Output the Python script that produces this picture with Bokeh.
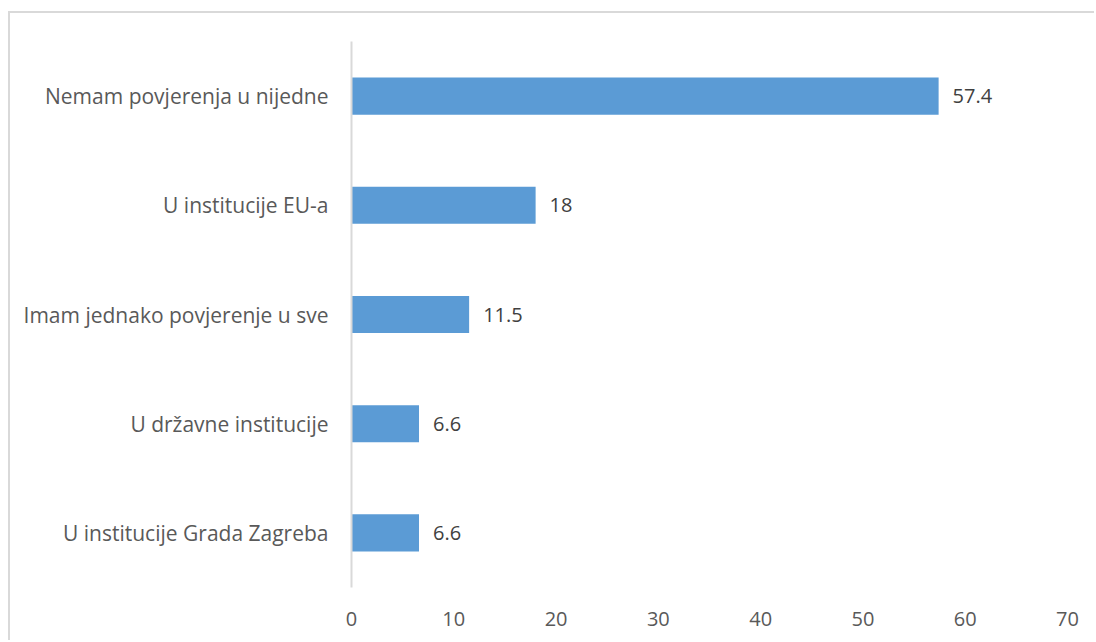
from bokeh.plotting import figure
from bokeh.models import ColumnDataSource, FixedTicker, LabelSet
from bokeh.core.properties import value
from bokeh.embed import file_html
from bokeh.resources import INLINE

categories = [
    "U institucije Grada Zagreba",
    "U državne institucije",
    "Imam jednako povjerenje u sve",
    "U institucije EU-a",
    "Nemam povjerenja u nijedne",
]
values = [6.6, 6.6, 11.5, 18, 57.4]
value_labels = ["6.6", "6.6", "11.5", "18", "57.4"]
x_ticks = [0, 10, 20, 30, 40, 50, 60, 70]

src = ColumnDataSource(dict(cat=categories, val=values, lab=value_labels))

FONT = "Open Sans"
p = figure(
    y_range=categories, x_range=(0, 70),
    width=1086, height=629,
    output_backend="svg", toolbar_location=None,
    min_border_left=341, min_border_right=29,
    min_border_top=28, min_border_bottom=55,
)
p.margin = (11, 0, 0, 8)
p.styles = {"border-left": "2px solid #d9d9d9", "border-top": "2px solid #d9d9d9"}
p.outline_line_color = None
p.grid.visible = False

p.hbar(y="cat", right="val", left=0, height=0.34, source=src,
       fill_color="#5B9BD5", line_color=None)

labels = LabelSet(x="val", y="cat", text="lab", source=src,
                  x_offset=14, text_baseline="middle", text_align="left",
                  text_font=value(FONT), text_font_size="20px", text_color="#404040")
p.add_layout(labels)

p.xaxis.ticker = FixedTicker(ticks=x_ticks)
p.xaxis.axis_line_color = None
p.xaxis.major_tick_line_color = None
p.xaxis.minor_tick_line_color = None
p.xaxis.major_label_standoff = 18
p.xaxis.major_label_text_font = FONT
p.xaxis.major_label_text_font_size = "20px"
p.xaxis.major_label_text_color = "#595959"

p.yaxis.axis_line_color = "#d9d9d9"
p.yaxis.axis_line_width = 2
p.yaxis.major_tick_line_color = None
p.yaxis.minor_tick_line_color = None
p.yaxis.major_label_standoff = 17
p.yaxis.major_label_text_font = FONT
p.yaxis.major_label_text_font_size = "21px"
p.yaxis.major_label_text_color = "#595959"

open("out.html", "w").write(file_html(p, INLINE))
